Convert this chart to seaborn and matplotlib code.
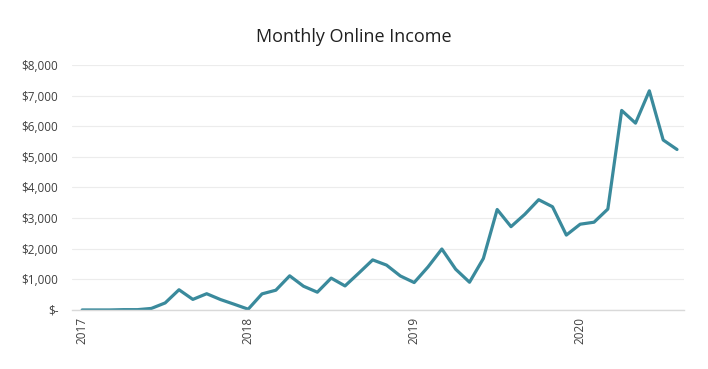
import pandas as pd
import matplotlib
matplotlib.use('Agg')
import matplotlib.pyplot as plt
import seaborn as sns

# Monthly income, Jan 2017 - Aug 2020
months = pd.date_range('2017-01-01', '2020-08-01', freq='MS').strftime('%Y-%m').tolist()
income = [0, 0, 0, 10, 10, 50, 230, 660, 345, 530, 340, 185,
          25, 525, 645, 1115, 775, 580, 1040, 785, 1205, 1635, 1465, 1110,
          895, 1405, 1990, 1330, 905, 1680, 3280, 2720, 3125, 3600, 3370, 2445,
          2800, 2865, 3295, 6515, 6100, 7155, 5550, 5240]
year_labels = ['2017', '2018', '2019', '2020']
y_ticks = [0, 1000, 2000, 3000, 4000, 5000, 6000, 7000, 8000]

df = pd.DataFrame({'month': months, 'income': income})
df['idx'] = range(len(df))

sns.set_style('white')
plt.rcParams['font.family'] = ['Open Sans', 'DejaVu Sans']

fig = plt.figure(figsize=(7.08, 3.69), dpi=100)
ax = fig.add_axes([0.102, 0.160, 0.864, 0.664])

sns.lineplot(data=df, x='idx', y='income', color='#3a8a9c', linewidth=2.3, ax=ax)

ax.set_xlim(-0.72, 43.5)
ax.set_ylim(0, 8000)
ax.set_yticks(y_ticks)
ax.set_yticklabels(['$-'] + ['${:,}'.format(v) for v in y_ticks[1:]])
ax.set_xticks([0, 12, 24, 36])
ax.set_xticklabels(year_labels, rotation=90)
ax.tick_params(axis='both', length=0, labelsize=8.5, labelcolor='#404040')
ax.tick_params(axis='y', pad=10)
ax.tick_params(axis='x', pad=5)

ax.grid(axis='y', color='#ececec', linewidth=0.8)
ax.set_axisbelow(True)
for s in ['top', 'right', 'left']:
    ax.spines[s].set_visible(False)
ax.spines['bottom'].set_color('#d9d9d9')
ax.spines['bottom'].set_linewidth(1)

ax.set_xlabel('')
ax.set_ylabel('')
fig.suptitle('Monthly Online Income', y=0.925, fontsize=13, color='#202020')

plt.savefig('out.png', dpi=100)
plt.close()
